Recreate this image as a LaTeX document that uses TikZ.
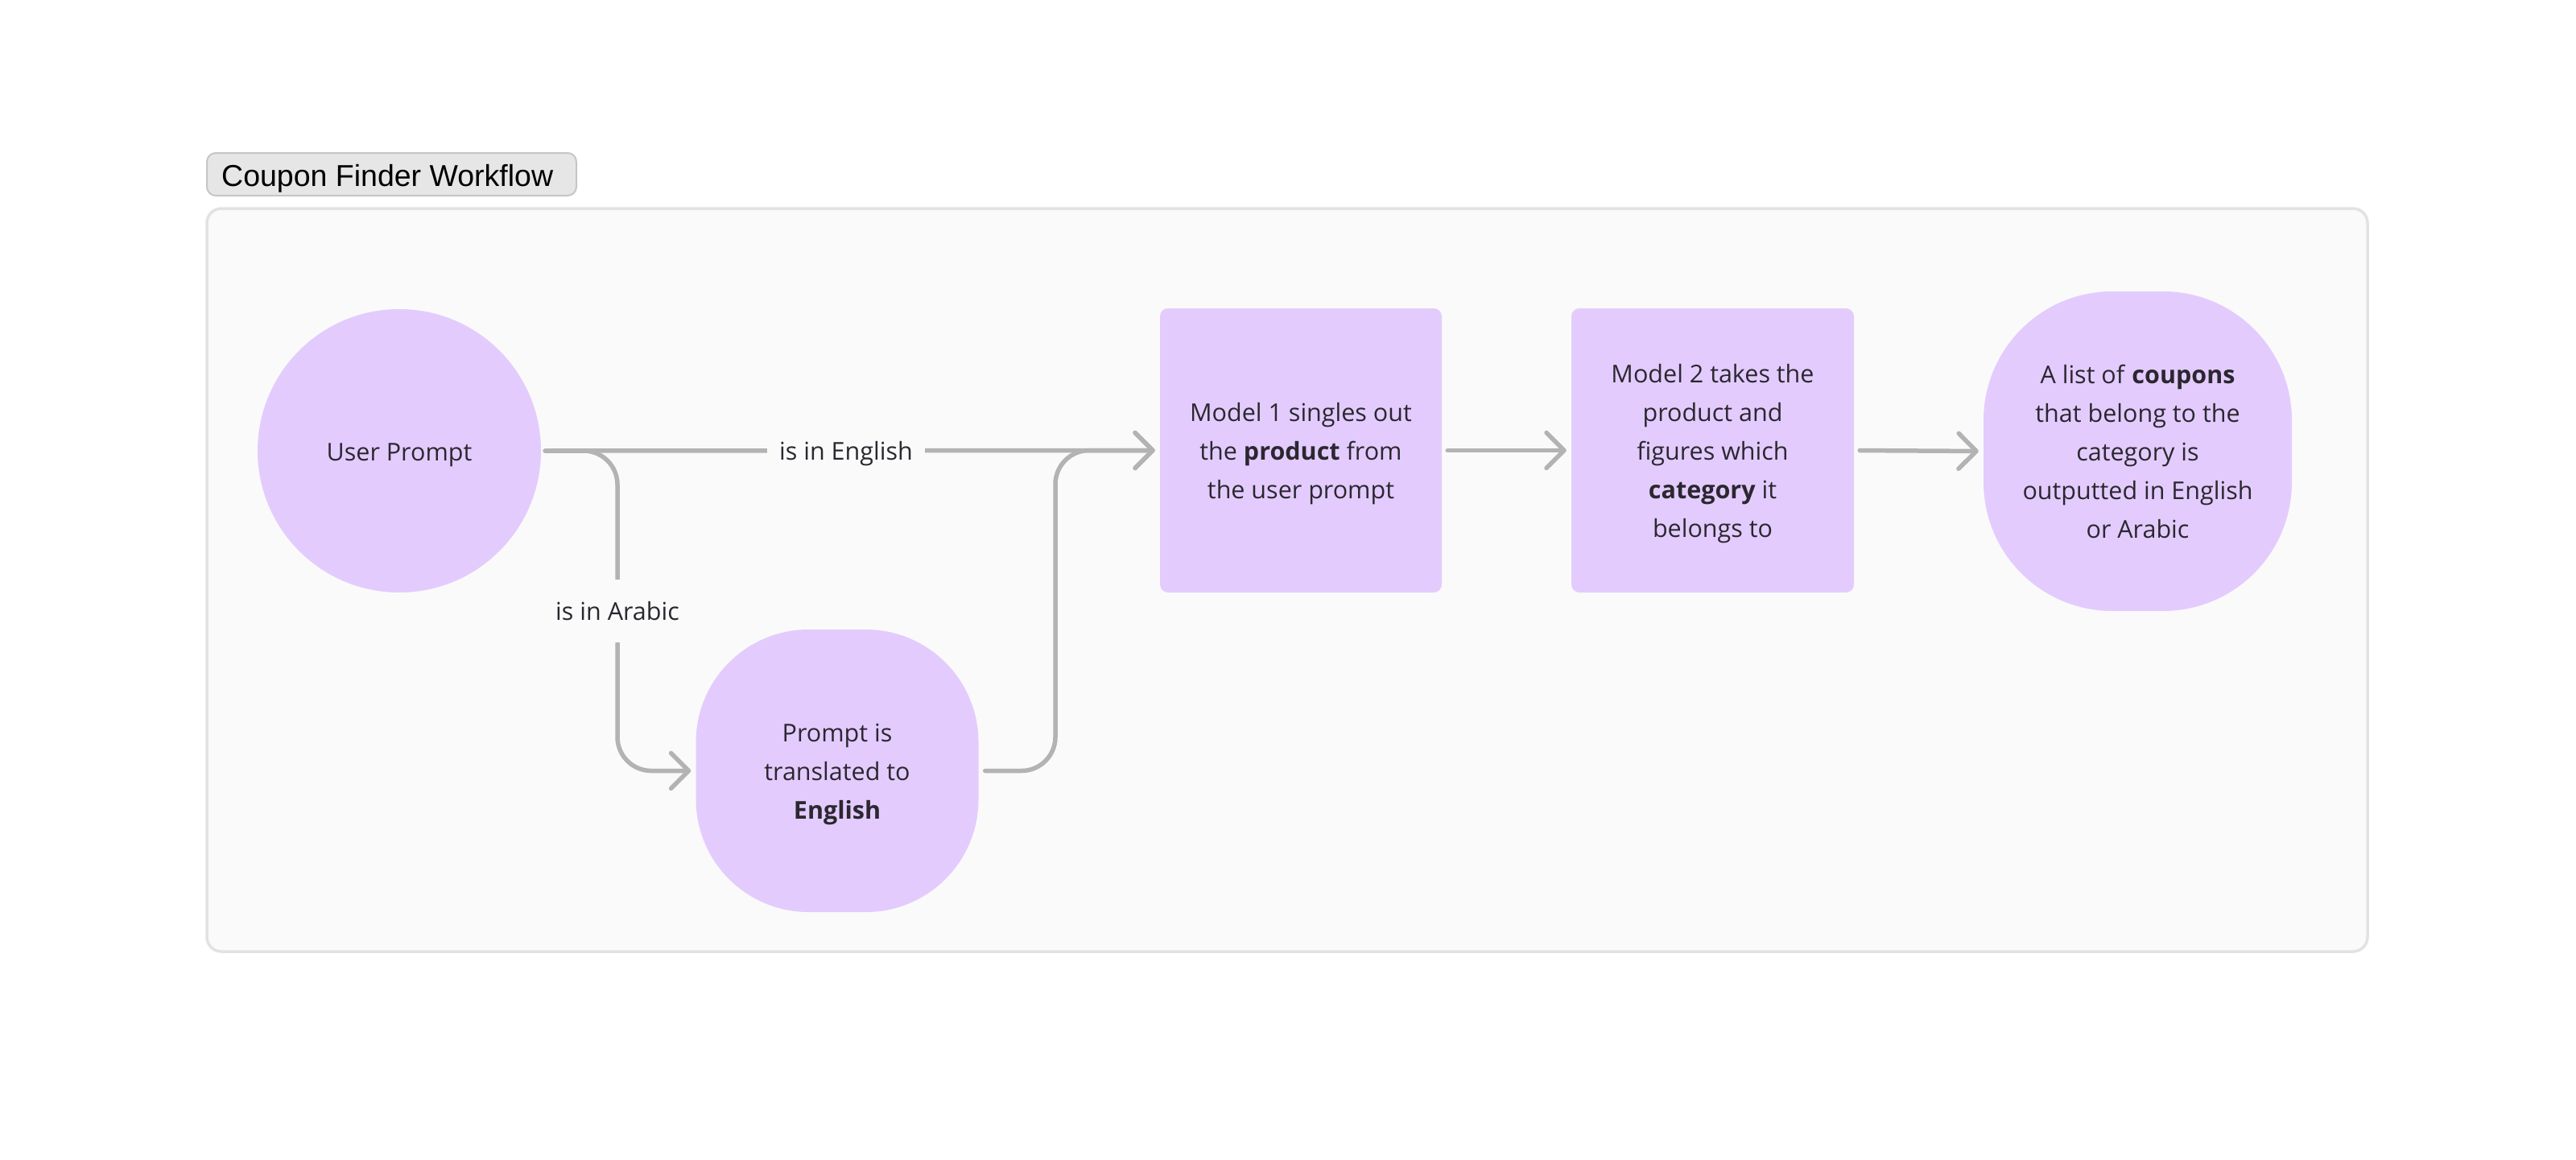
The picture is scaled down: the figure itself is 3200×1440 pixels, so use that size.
\documentclass[tikz,border=0pt]{standalone}
\usepackage{fontspec}
\setmainfont{Open Sans}
\newfontfamily\titlefont{Liberation Sans}
\usetikzlibrary{arrows.meta}
\definecolor{nodefill}{HTML}{E3CCFD}
\definecolor{framebg}{HTML}{FAFAFA}
\definecolor{frameline}{HTML}{E2E2E2}
\definecolor{tabfill}{HTML}{E6E6E6}
\definecolor{tabline}{HTML}{C6C6C6}
\definecolor{connc}{HTML}{B3B3B3}
\definecolor{txt}{HTML}{2B2730}
\newcommand\topstrut{\rule{0pt}{34pt}}
\newcommand\botstrut{\rule[-10pt]{0pt}{10pt}}
\begin{document}
\begin{tikzpicture}[x=1pt,y=-1pt,
  bodytext/.style={font=\fontsize{30.5}{48}\selectfont, text=txt, align=center},
  shapebox/.style={fill=nodefill, draw=none, bodytext, inner sep=0pt},
  conn/.style={draw=connc, line width=5.5pt, line cap=round, line join=round, rounded corners=42pt},
  tip/.style={-{Straight Barb[length=22pt,width=44pt,round]}},
  gaplabel/.style={fill=framebg, bodytext, inner xsep=15pt, text height=30pt, text depth=8pt}
]
\useasboundingbox[fill=white] (0,0) rectangle (3200,1440);
% frame and tab
\node[draw=frameline, fill=framebg, line width=3.5pt, rounded corners=18pt,
      minimum width=2684pt, minimum height=923pt, inner sep=0pt] (frame) at (1599,720.5) {};
\node[draw=tabline, fill=tabfill, line width=2pt, rounded corners=11pt,
      minimum width=459pt, minimum height=53pt, inner sep=0pt] (tab) at (486.5,216.5) {};
\node[anchor=base west, inner sep=0pt, font=\titlefont\fontsize{37.5}{40}\selectfont] (title) at (275,231) {Coupon Finder Workflow};
% nodes
\node[shapebox, circle, minimum size=352pt] (up) at (496,560) {\topstrut User Prompt\botstrut};
\node[shapebox, rectangle, rounded corners=140pt, minimum width=351pt, minimum height=351pt] (pt) at (1040,957.5) {\topstrut Prompt is\\translated to\\\textbf{English}\botstrut};
\node[shapebox, rectangle, rounded corners=10pt, minimum width=350pt, minimum height=353pt] (m1) at (1616,559.5) {\topstrut Model 1 singles out\\the \textbf{product} from\\the user prompt\botstrut};
\node[shapebox, rectangle, rounded corners=10pt, minimum width=351pt, minimum height=353pt] (m2) at (2127.5,559.5) {\topstrut Model 2 takes the\\product and\\figures which\\\textbf{category} it\\belongs to\botstrut};
\node[shapebox, rectangle, rounded corners=160pt, minimum width=383pt, minimum height=397pt] (out) at (2655.5,560.5) {\topstrut A list of \textbf{coupons}\\that belong to the\\category is\\outputted in English\\or Arabic\botstrut};
% helper coordinates
\coordinate (enpos) at (1051,560);
\coordinate (arpos) at (767,759);
\coordinate (mx) at (1311,760);
% connectors
\draw[conn, tip, shorten <=5pt, shorten >=6pt] (up.east) -- (m1.west);
\draw[conn, tip, shorten <=5pt, shorten >=6pt] (up.east) -| (arpos) |- (pt.west);
\draw[conn, tip, shorten <=8pt, shorten >=6pt] (pt.east) -| (mx) |- (m1.west);
\draw[conn, tip, shorten <=7pt, shorten >=6pt] (m1.east) -- (m2.west);
\draw[conn, tip, shorten <=7pt, shorten >=6pt] (m2.east) -- (out.west);
% gap labels
\node[gaplabel] (en) at (enpos) {is in English};
\node[gaplabel, inner ysep=20pt] (ar) at (arpos) {is in Arabic};
\end{tikzpicture}
\end{document}
